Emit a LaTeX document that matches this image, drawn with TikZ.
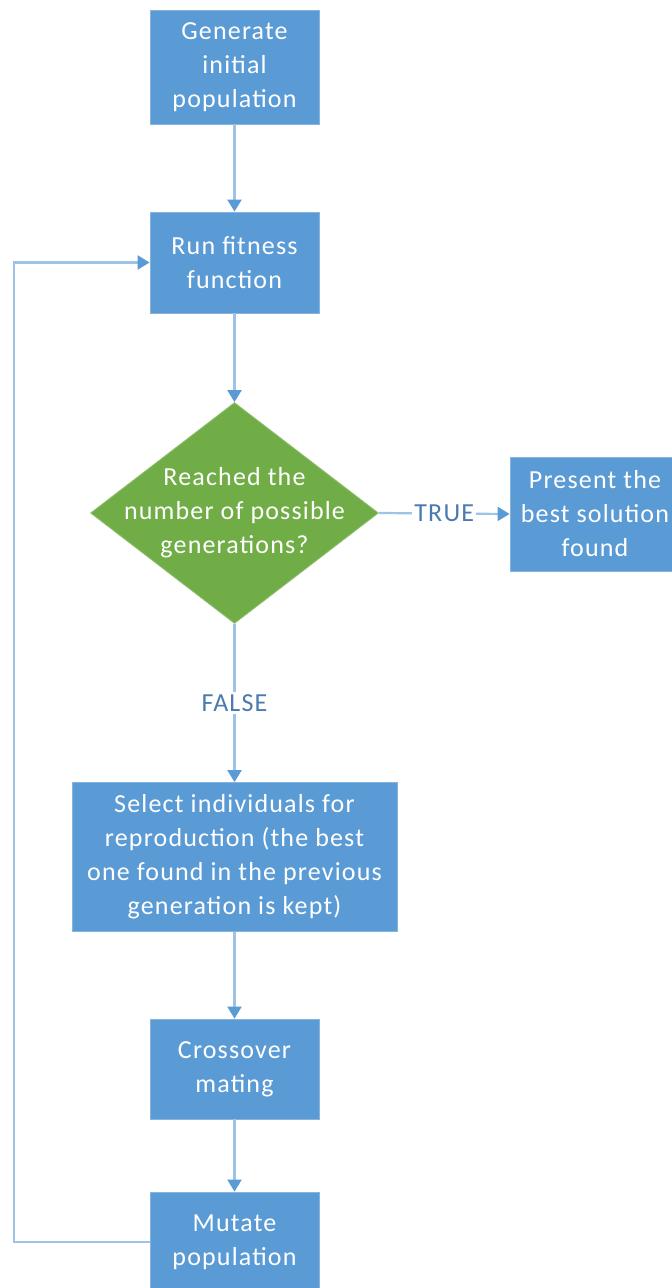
\documentclass[tikz,border=0pt]{standalone}
\usepackage{fontspec}
\setmainfont{Carlito}
\newfontfamily\boxfont[LetterSpace=4.5]{Carlito}
\usetikzlibrary{shapes.geometric,arrows.meta}
\definecolor{boxblue}{HTML}{5B9BD5}
\definecolor{decgreen}{HTML}{70AD47}
\definecolor{linkblue}{HTML}{9DC3E6}
\definecolor{tipblue}{HTML}{5B9BD5}
\definecolor{labelblue}{HTML}{4A7AB0}
\tikzset{
  stepbox/.style={rectangle, fill=boxblue, draw=boxblue!75!white, line width=0.8pt,
    text=white, align=center, inner sep=0pt, font=\boxfont\fontsize{26}{34}\selectfont},
  decision/.style={diamond, fill=decgreen, draw=decgreen!75!white, line width=0.8pt,
    inner sep=0pt, minimum width=288pt, minimum height=221pt},
  dectext/.style={text=white, align=center, inner sep=0pt, font=\boxfont\fontsize{26}{34}\selectfont},
  link/.style={draw=linkblue, line width=2.2pt,
    -{Triangle[width=14pt,length=12pt,color=tipblue]}},
  yesno/.style={fill=white, text=labelblue, inner sep=2pt, font=\boxfont\fontsize{26}{34}\selectfont}
}
\begin{document}
\begin{tikzpicture}[x=1pt,y=-1pt]
  \useasboundingbox (0,0) rectangle (672,1288);
  \clip (0,0) rectangle (672,1288);

  % process steps
  \node[stepbox, minimum width=169pt, minimum height=114pt] (gen) at (234.5,67)
    {Generate\\initial\\population};
  \node[stepbox, minimum width=169pt, minimum height=101pt] (run) at (234.5,262.5)
    {Run fitness\\function};
  \node[decision] (dec) at (234.5,513) {};
  \node[dectext] (dectxt) at (dec.center)
    {Reached the\\number of possible\\generations?};
  \node[stepbox, minimum width=170pt, minimum height=114pt] (present) at (595,514)
    {Present the\\best solution\\found};
  \node[stepbox, minimum width=325pt, minimum height=149pt] (select) at (234.5,857)
    {Select individuals for\\reproduction (the best\\one found in the previous\\generation is kept)};
  \node[stepbox, minimum width=169pt, minimum height=100pt] (cross) at (234.5,1069)
    {Crossover\\mating};
  \node[stepbox, minimum width=169pt, minimum height=100pt] (mutate) at (234.5,1242)
    {Mutate\\population};

  % flow
  \draw[link] (gen.south) -- (run.north);
  \draw[link] (run.south) -- (dec.north);
  \draw[link] (dec.east) -- node[yesno] (truelbl) {TRUE} (present.west);
  \draw[link] (dec.south) -- node[yesno] (falselbl) {FALSE} (select.north);
  \draw[link] (select.south) -- (cross.north);
  \draw[link] (cross.south) -- (mutate.north);

  % loop back to the fitness evaluation
  \coordinate (loopcorner) at (14,1242);
  \draw[link] (mutate.west) -- (loopcorner) |- (run.west);
\end{tikzpicture}
\end{document}
